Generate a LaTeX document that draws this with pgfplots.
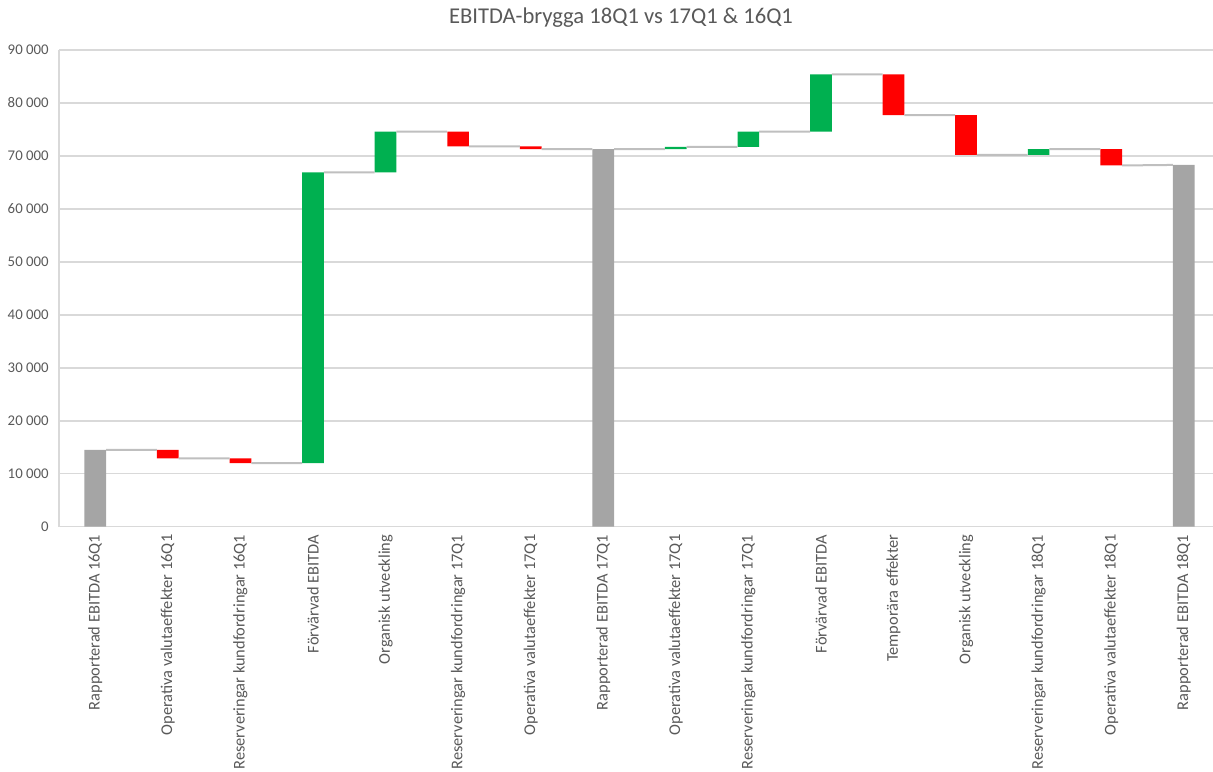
\documentclass[border=0pt]{standalone}
\usepackage{fontspec}
\setmainfont{Carlito}
\usepackage{pgfplots}
\pgfplotsset{compat=1.18}
\definecolor{wfgray}{HTML}{A5A5A5}
\definecolor{wfgreen}{HTML}{00B050}
\definecolor{wfred}{HTML}{FF0000}
\definecolor{gridc}{HTML}{D9D9D9}
\definecolor{txt}{HTML}{595959}
\definecolor{conn}{HTML}{BFBFBF}
\pgfplotsset{wfbase/.style={
  scale only axis, width=580.5pt, height=238.35pt,
  at={(0pt,0pt)}, anchor=south west,
  xmin=-0.5, xmax=15.5, ymin=0, ymax=90000,
}}
\begin{document}
\begin{tikzpicture}
\begin{axis}[wfbase,
  ybar stacked, bar width=10.85pt,
  axis lines=left, axis line style={-, gridc, line width=0.75pt},
  ytick={0,10000,...,90000},
  ymajorgrids, grid style={gridc, line width=0.75pt},
  xtick={0,...,15},
  xticklabels={Rapporterad EBITDA 16Q1, Operativa valutaeffekter 16Q1, Reserveringar kundfordringar 16Q1, Förvärvad EBITDA, Organisk utveckling, Reserveringar kundfordringar 17Q1, Operativa valutaeffekter 17Q1, Rapporterad EBITDA 17Q1, Operativa valutaeffekter 17Q1, Reserveringar kundfordringar 17Q1, Förvärvad EBITDA, Temporära effekter, Organisk utveckling, Reserveringar kundfordringar 18Q1, Operativa valutaeffekter 18Q1, Rapporterad EBITDA 18Q1},
  major tick length=0pt,
  xticklabel style={rotate=90, anchor=east, font=\fontsize{8.2}{9.5}\selectfont, text=txt, inner sep=0pt, xshift=-3.8pt},
  yticklabel style={font=\fontsize{7.4}{8.5}\selectfont, text=txt, inner sep=0pt, xshift=-5pt},
  /pgf/number format/assume math mode=true,
  /pgf/number format/1000 sep={\ },
  scaled y ticks=false,
  clip=false,
]
\addplot+[draw=none, fill=none] coordinates {(0,0) (1,12900) (2,12000) (3,12000) (4,66900) (5,71800) (6,71300) (7,0) (8,71300) (9,71700) (10,74600) (11,77700) (12,70200) (13,70200) (14,68200) (15,0)};
\addplot+[draw=none, fill=wfgray] coordinates {(0,14500) (1,0) (2,0) (3,0) (4,0) (5,0) (6,0) (7,71300) (8,0) (9,0) (10,0) (11,0) (12,0) (13,0) (14,0) (15,68300)};
\addplot+[draw=none, fill=wfgreen] coordinates {(0,0) (1,0) (2,0) (3,54900) (4,7700) (5,0) (6,0) (7,0) (8,400) (9,2900) (10,10800) (11,0) (12,0) (13,1100) (14,0) (15,0)};
\addplot+[draw=none, fill=wfred] coordinates {(0,0) (1,1600) (2,900) (3,0) (4,0) (5,2800) (6,500) (7,0) (8,0) (9,0) (10,0) (11,7700) (12,7500) (13,0) (14,3100) (15,0)};
\end{axis}
\begin{axis}[wfbase, hide axis, unbounded coords=jump]
\addplot[conn, line width=1pt, no markers] coordinates {
(0.15,14500) (0.85,14500) (0.85,nan)
(1.15,12900) (1.85,12900) (1.85,nan)
(2.15,12000) (2.85,12000) (2.85,nan)
(3.15,66900) (3.85,66900) (3.85,nan)
(4.15,74600) (4.85,74600) (4.85,nan)
(5.15,71800) (5.85,71800) (5.85,nan)
(6.15,71300) (6.85,71300) (6.85,nan)
(7.15,71300) (7.85,71300) (7.85,nan)
(8.15,71700) (8.85,71700) (8.85,nan)
(9.15,74600) (9.85,74600) (9.85,nan)
(10.15,85400) (10.85,85400) (10.85,nan)
(11.15,77700) (11.85,77700) (11.85,nan)
(12.15,70200) (12.85,70200) (12.85,nan)
(13.15,71300) (13.85,71300) (13.85,nan)
(14.15,68200) (14.85,68300)
};
\end{axis}
\node[font=\fontsize{11.3}{13}\selectfont, text=txt] at (281pt,254.35pt) {EBITDA-brygga 18Q1 vs 17Q1 \& 16Q1};
\pgfresetboundingbox
\useasboundingbox (-29.5pt,-122.15pt) rectangle (577pt,263.35pt);
\end{tikzpicture}
\end{document}
